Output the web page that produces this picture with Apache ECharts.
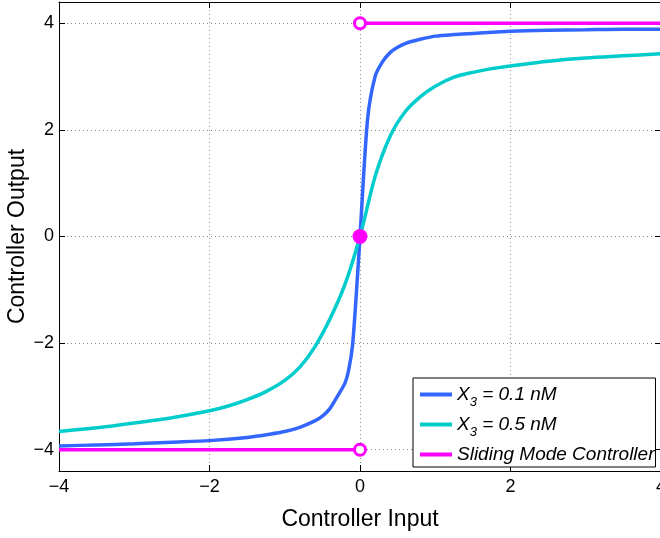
<!DOCTYPE html>
<html><head><meta charset="utf-8">
<script src="https://cdn.jsdelivr.net/npm/echarts@6/dist/echarts.min.js"></script>
<style>html,body{margin:0;padding:0;background:#fff}#c{width:660px;height:538px}</style>
</head><body><div id="c"></div>
<script>
// ---- data ----
const blueX = [-4, -3.5, -3, -2.5, -2, -1.5, -1.2, -1, -0.8, -0.6, -0.5, -0.4, -0.3, -0.2, -0.15, -0.1, -0.05, 0, 0.1, 0.2, 0.3, 0.4, 0.5, 0.6, 0.8, 1, 1.25, 1.5, 2, 2.5, 3, 3.5, 4];
const blueY = [-3.93, -3.91, -3.89, -3.86, -3.83, -3.77, -3.71, -3.66, -3.58, -3.46, -3.37, -3.23, -3.0, -2.75, -2.5, -2.05, -1.1, 0, 2.19, 3.0, 3.28, 3.45, 3.55, 3.62, 3.70, 3.76, 3.79, 3.81, 3.85, 3.87, 3.88, 3.89, 3.89];
const cyanX = [-4, -3.5, -3, -2.5, -2, -1.75, -1.5, -1.25, -1, -0.8, -0.6, -0.4, -0.2, 0, 0.2, 0.4, 0.6, 0.8, 1, 1.25, 1.5, 1.75, 2, 2.5, 3, 3.5, 4];
const cyanY = [-3.66, -3.59, -3.50, -3.40, -3.27, -3.18, -3.06, -2.91, -2.70, -2.45, -2.07, -1.55, -0.90, 0, 1.12, 1.88, 2.34, 2.62, 2.82, 2.99, 3.08, 3.15, 3.2, 3.29, 3.35, 3.39, 3.43];
const smcLowX = [-4, 0];
const smcLowY = [-4, -4];
const smcHighX = [0, 4];
const smcHighY = [4, 4];
const smcOpenX = [0, 0];
const smcOpenY = [4, -4];
const smcFilledX = [0];
const smcFilledY = [0];
const xTicks = [-4, -2, 0, 2, 4];
const yTicks = [-4, -2, 0, 2, 4];
const seriesNames = ['X_3 = 0.1 nM', 'X_3 = 0.5 nM', 'Sliding Mode Controller'];
const xTitle = 'Controller Input';
const yTitle = 'Controller Output';

const zip = (xs, ys) => xs.map((x, i) => [x, ys[i]]);
const FONT = "'Liberation Sans', Arial, Helvetica, sans-serif";
const fmt = v => (v < 0 ? '\u2212' + (-v) : String(v));
const BLUE = '#3366ff', CYAN = '#00cccc', MAG = '#ff00ff';

const chart = echarts.init(document.getElementById('c'), null, {renderer: 'canvas'});
const gridLine = {show: true, lineStyle: {color: '#8a8a8a', width: 1, type: [1, 3]}};
chart.setOption({
  animation: false,
  backgroundColor: '#fff',
  grid: {left: 59, top: 2, width: 602, height: 469, outerBoundsMode: 'none', containLabel: false},
  xAxis: [{
    type: 'value', min: -4, max: 4, interval: 2, position: 'bottom',
    name: xTitle, nameLocation: 'middle', nameGap: 37, nameMoveOverlap: false,
    nameTextStyle: {fontFamily: FONT, fontSize: 23, color: '#000'},
    axisLine: {show: true, onZero: false, lineStyle: {color: '#000', width: 1}},
    axisTick: {show: true, inside: true, length: 6, lineStyle: {color: '#000'}},
    axisLabel: {fontFamily: FONT, fontSize: 18, color: '#000', margin: 7, formatter: fmt, showMaxLabel: true, showMinLabel: true},
    splitLine: gridLine
  }, {
    type: 'value', min: -4, max: 4, interval: 2, position: 'top',
    axisLine: {show: true, onZero: false, lineStyle: {color: '#000', width: 1}},
    axisTick: {show: true, inside: true, length: 6, lineStyle: {color: '#000'}},
    axisLabel: {show: false}, splitLine: {show: false}
  }],
  yAxis: [{
    type: 'value', min: -4.4, max: 4.4, position: 'left',
    name: yTitle, nameLocation: 'middle', nameGap: 30, nameRotate: 90, nameMoveOverlap: false,
    nameTextStyle: {fontFamily: FONT, fontSize: 23, color: '#000'},
    axisLine: {show: true, onZero: false, lineStyle: {color: '#000', width: 1}},
    axisTick: {show: true, inside: true, length: 6, lineStyle: {color: '#000'}, customValues: yTicks},
    axisLabel: {fontFamily: FONT, fontSize: 18, color: '#000', margin: 5, formatter: fmt, customValues: yTicks},
    splitLine: gridLine
  }, {
    type: 'value', min: -4.4, max: 4.4, position: 'right',
    axisLine: {show: true, onZero: false, lineStyle: {color: '#000', width: 1}},
    axisTick: {show: true, inside: true, length: 6, lineStyle: {color: '#000'}, customValues: yTicks},
    axisLabel: {show: false}, splitLine: {show: false}
  }],
  legend: {
    orient: 'vertical', left: 413, top: 378,
    backgroundColor: '#fff', borderColor: '#000', borderWidth: 1, borderRadius: 0,
    padding: [7, 1, 3, 7], itemGap: 6, itemWidth: 32, itemHeight: 4, icon: 'rect',
    data: seriesNames,
    formatter: function (name) {
      if (name.indexOf('X_3') === 0) {
        return '{a|X}{s|3}{a|' + name.slice(3) + '}';
      }
      return '{a|' + name + '}';
    },
    textStyle: {
      fontFamily: FONT, fontSize: 19, fontStyle: 'italic', color: '#000',
      rich: {
        a: {fontFamily: FONT, fontSize: 19, fontStyle: 'italic', color: '#000'},
        s: {fontFamily: FONT, fontSize: 13, fontStyle: 'italic', color: '#000', padding: [16, 0, 0, 0]}
      }
    }
  },
  series: [
    {name: seriesNames[0], type: 'line', data: zip(blueX, blueY), showSymbol: false, symbol: 'none',
     smooth: 0.25,
     lineStyle: {color: BLUE, width: 3.5}, itemStyle: {color: BLUE}, z: 3},
    {name: seriesNames[1], type: 'line', data: zip(cyanX, cyanY), showSymbol: false, symbol: 'none',
     smooth: 0.3,
     lineStyle: {color: CYAN, width: 3.5}, itemStyle: {color: CYAN}, z: 3},
    {name: seriesNames[2], type: 'line', data: zip(smcLowX, smcLowY), showSymbol: false, symbol: 'none',
     lineStyle: {color: MAG, width: 3.5}, itemStyle: {color: MAG}, z: 4},
    {name: seriesNames[2], type: 'line', data: zip(smcHighX, smcHighY), showSymbol: false, symbol: 'none',
     lineStyle: {color: MAG, width: 3.5}, itemStyle: {color: MAG}, z: 4},
    {name: seriesNames[2], type: 'scatter', data: zip(smcOpenX, smcOpenY), symbol: 'circle', symbolSize: 11,
     itemStyle: {color: '#fff', borderColor: MAG, borderWidth: 3, opacity: 1}, z: 5},
    {name: seriesNames[2], type: 'scatter', data: zip(smcFilledX, smcFilledY), symbol: 'circle', symbolSize: 15,
     itemStyle: {color: MAG, opacity: 1}, z: 5}
  ]
});
</script>
</body></html>
